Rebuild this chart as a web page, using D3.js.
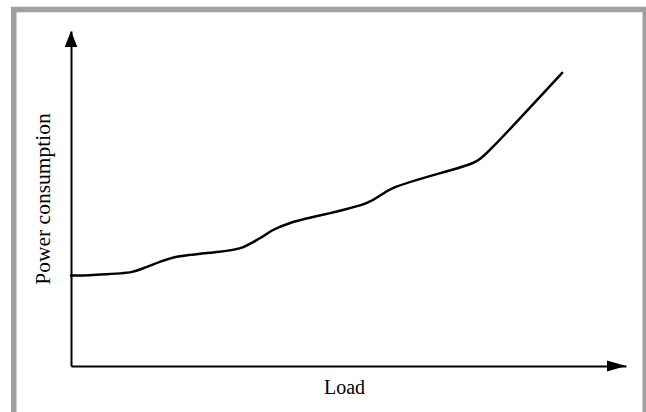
<!DOCTYPE html>
<html>
<head>
<meta charset="utf-8">
<script src="https://cdn.jsdelivr.net/npm/d3@7"></script>
<style>
  html, body { margin: 0; padding: 0; background: #fff; }
  svg { display: block; }
</style>
</head>
<body>
<div id="chart"></div>
<script>
// load (x) and power consumption (y), in axis percent
var load = [0, 4, 11, 13.7, 16, 19.1, 24.5, 30.5, 34.1, 36.4, 39.5, 53.3, 58, 72.4, 73.9, 76, 88.5];
var power = [27, 27.2, 28.1, 29.6, 31.1, 32.6, 33.7, 35.2, 38.2, 40.6, 42.7, 48.7, 53.1, 60.6, 62.1, 65.4, 87.5];
var xLabel = "Load";
var yLabel = "Power consumption";

var W = 646, H = 412;
var data = load.map(function (d, i) { return { x: d, y: power[i] }; });

var svg = d3.select("#chart")
    .append("svg")
    .attr("width", W)
    .attr("height", H);

// grey frame
svg.append("rect")
    .attr("x", 13.75)
    .attr("y", 9.5)
    .attr("width", 631.5)
    .attr("height", 420)
    .attr("fill", "none")
    .attr("stroke", "#a0a0a0")
    .attr("stroke-width", 5.5);

var x = d3.scaleLinear().domain([0, 100]).range([71, 626]);
var y = d3.scaleLinear().domain([0, 100]).range([366, 31]);

// axes without ticks
svg.append("g")
    .attr("transform", "translate(0," + y(0) + ")")
    .call(d3.axisBottom(x).ticks(0).tickSizeOuter(0))
    .call(function (g) { g.select(".domain").attr("stroke", "#000").attr("stroke-width", 2); });

svg.append("g")
    .attr("transform", "translate(" + x(0) + ",0)")
    .call(d3.axisLeft(y).ticks(0).tickSizeOuter(0))
    .call(function (g) { g.select(".domain").attr("stroke", "#000").attr("stroke-width", 2); });

// arrow heads
var tipX = x(100), tipY = y(100);
svg.append("path")
    .attr("d", "M" + tipX + "," + y(0) + "L" + (tipX - 19) + "," + (y(0) - 5.5) +
        "L" + (tipX - 19) + "," + (y(0) + 5.5) + "Z")
    .attr("fill", "#000");
svg.append("path")
    .attr("d", "M" + x(0) + "," + tipY + "L" + (x(0) - 6.3) + "," + (tipY + 16) +
        "L" + (x(0) + 6.3) + "," + (tipY + 16) + "Z")
    .attr("fill", "#000");

// axis labels
svg.append("text")
    .attr("x", 344.5)
    .attr("y", 394)
    .attr("text-anchor", "middle")
    .style("font-family", "'Liberation Serif', 'Times New Roman', serif")
    .style("font-size", "20px")
    .text(xLabel);

svg.append("text")
    .attr("transform", "translate(49.5,199) rotate(-90)")
    .attr("text-anchor", "middle")
    .style("font-family", "'Liberation Serif', 'Times New Roman', serif")
    .style("font-size", "21.5px")
    .text(yLabel);

// the curve
svg.append("path")
    .datum(data)
    .attr("fill", "none")
    .attr("stroke", "#000")
    .attr("stroke-width", 2.5)
    .attr("stroke-linecap", "round")
    .attr("d", d3.line()
        .x(function (d) { return x(d.x); })
        .y(function (d) { return y(d.y); })
        .curve(d3.curveCatmullRom.alpha(0.5))
    );
</script>
</body>
</html>
